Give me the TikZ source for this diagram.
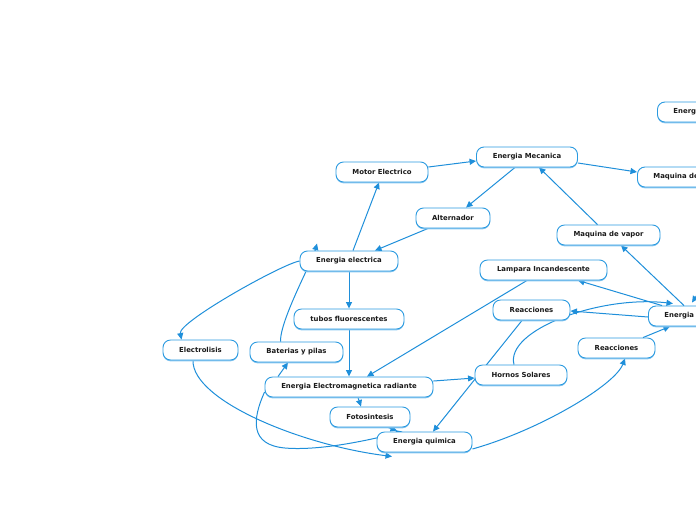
\documentclass[tikz,border=0pt]{standalone}
\usepackage{fontspec}
\setmainfont{DejaVu Sans}
\usetikzlibrary{arrows.meta,shadows,backgrounds}
\definecolor{nodeblue}{HTML}{2A9AE0}
\definecolor{shadeblue}{HTML}{8CC8F0}
\definecolor{lineblue}{HTML}{1F8FDA}
\definecolor{txt}{HTML}{1A1A1A}
\tikzset{
  mbox/.style={draw=nodeblue, line width=0.9pt, rounded corners=7.5pt, fill=white,
    minimum height=20pt, inner xsep=0pt, inner ysep=0pt,
    font=\fontsize{6.9}{7.5}\selectfont\bfseries, text=txt,
    drop shadow={shadow xshift=0pt, shadow yshift=-1.3pt, fill=shadeblue, opacity=1}},
  cutbox/.style={mbox, anchor=west, text width=60pt, align=left, inner xsep=16pt},
  conn/.style={draw=lineblue, line width=1pt, -{Triangle[length=6.5pt,width=6pt]}},
}
\begin{document}
\begin{tikzpicture}[x=1pt,y=-1pt]
\useasboundingbox (0,0) rectangle (696,520);
% nodes
\node[cutbox] (eTop) at (657,112) {Energia};
\node[mbox, minimum width=101pt] (eMec) at (527,157) {Energia Mecanica};
\node[mbox, minimum width=92pt] (motor) at (382,172) {Motor Electrico};
\node[cutbox] (maqR) at (637,177) {Maquina de};
\node[mbox, minimum width=74pt] (alt) at (453,218) {Alternador};
\node[mbox, minimum width=103pt] (maqV) at (608.5,235) {Maquina de vapor};
\node[mbox, minimum width=98pt] (eElec) at (349,261) {Energia electrica};
\node[mbox, minimum width=127pt] (lamp) at (543.5,270) {Lampara Incandescente};
\node[mbox, minimum width=77pt] (reacU) at (531.5,310) {Reacciones};
\node[cutbox] (eR) at (648,316) {Energia};
\node[mbox, minimum width=110pt] (tubos) at (349,319) {tubos fluorescentes};
\node[mbox, minimum width=77pt] (reacL) at (616.5,348) {Reacciones};
\node[mbox, minimum width=75pt] (electro) at (200.5,350) {Electrolisis};
\node[mbox, minimum width=93pt] (bat) at (296.5,352) {Baterias y pilas};
\node[mbox, minimum width=92pt] (hornos) at (521,375) {Hornos Solares};
\node[mbox, minimum width=168pt] (eem) at (349,387) {Energia Electromagnetica radiante};
\node[mbox, minimum width=80pt] (foto) at (370,417) {Fotosintesis};
\node[mbox, minimum width=95pt] (quim) at (424.5,442) {Energia quimica};
\coordinate (offR) at (712,272);
% connectors (drawn behind nodes)
\begin{pgfonlayer}{background}
\path[conn] ([yshift=5pt]motor.east) -- ([yshift=-4pt]eMec.west);
\path[conn] ([yshift=-6pt]eMec.east) -- ([yshift=5pt]maqR.west);
\path[conn] ([xshift=-12pt]eMec.south) -- ([xshift=13pt]alt.north);
\path[conn] ([xshift=-11pt]maqV.north) -- ([xshift=12pt]eMec.south);
\path[conn] ([xshift=-25pt]alt.south) -- ([xshift=26pt]eElec.north);
\path[conn] ([xshift=4pt]eElec.north) -- ([xshift=-3pt]motor.south);
\path[conn] (eElec.south) -- (tubos.north);
\path[conn] (tubos.south) -- (eem.north);
\path[conn] ([xshift=-16.5pt]lamp.south) -- ([xshift=18pt]eem.north);
\path[conn] (eElec.west) .. controls (282,264) and (178,322) .. ([xshift=-19pt]electro.north);
\path[conn] ([xshift=-16pt]bat.north) .. controls (280,320) and (312,262) .. ([xshift=-32pt,yshift=7pt]eElec.north);
\path[conn] ([xshift=-71pt]eem.north) -- ([xshift=-8.5pt]bat.south);
\path[conn] ([xshift=9pt]eem.south) -- ([xshift=-9pt]foto.north);
\path[conn] ([yshift=6pt]eem.east) -- ([yshift=-3pt]hornos.west);
\path[conn] ([xshift=18pt]foto.south) -- ([xshift=-27.5pt,yshift=1pt]quim.north);
\path[conn] ([yshift=-5pt]eem.west) .. controls (252,420) and (250,445) .. (285,448) .. controls (320,451) and (370,440) .. ([xshift=-22pt]quim.north);
\path[conn] ([xshift=-7.5pt]electro.south) .. controls (192,400) and (300,445) .. ([xshift=-32.5pt,yshift=-4pt]quim.south);
\path[conn] ([xshift=-9.5pt]reacU.south) -- ([xshift=8.5pt]quim.north);
\path[conn] ([xshift=-7pt]hornos.north) .. controls (505,330) and (600,295) .. ([xshift=25pt,yshift=2pt]eR.north west);
\path[conn] ([xshift=14pt]eR.north west) -- ([xshift=34.5pt]lamp.south);
\path[conn] ([yshift=-1pt]eR.west) -- ([yshift=-1pt]reacU.east);
\path[conn] ([xshift=26.5pt]reacL.north) -- ([xshift=22pt]eR.south west);
\path[conn] ([yshift=-7pt]quim.east) .. controls (540,430) and (615,385) .. ([xshift=8.5pt]reacL.south);
\path[conn] ([xshift=36pt]eR.north west) -- ([xshift=12.5pt]maqV.south);
\path[conn] (offR) -- ([xshift=44pt,yshift=3pt]eR.north west);
\end{pgfonlayer}
\end{tikzpicture}
\end{document}
